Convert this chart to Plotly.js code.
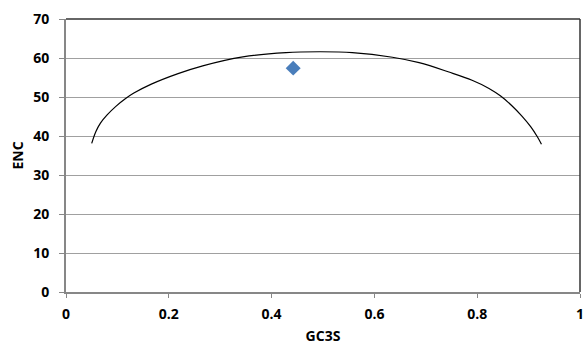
<!DOCTYPE html>
<html>
<head>
<meta charset="utf-8">
<script src="https://cdn.plot.ly/plotly-3.0.1.min.js"></script>
<style>html,body{margin:0;padding:0;background:#fff;}#chart{width:583px;height:345px;}</style>
</head>
<body>
<div id="chart"></div>
<script>
// Expected ENC curve
var curveGC3S = [0.050, 0.058, 0.067, 0.080, 0.097, 0.116, 0.132, 0.166, 0.218, 0.266, 0.344, 0.428, 0.493, 0.557, 0.635, 0.687, 0.745, 0.790, 0.823, 0.845, 0.868, 0.887, 0.904, 0.917, 0.925];
var curveENC  = [38.1, 41.1, 43.3, 45.4, 47.6, 49.6, 51.0, 53.3, 56.0, 58.0, 60.3, 61.4, 61.6, 61.4, 60.2, 58.8, 56.4, 54.3, 52.2, 50.3, 47.7, 45.1, 42.4, 39.8, 37.9];
// Observed point
var pointGC3S = [0.442];
var pointENC  = [57.4];

var xTickVals = [0, 0.2, 0.4, 0.6, 0.8, 1];
var xTickText = ['0', '0.2', '0.4', '0.6', '0.8', '1'];
var yTickVals = [0, 10, 20, 30, 40, 50, 60, 70];

var fontFam = 'Open Sans, sans-serif';
var tf = {family: fontFam, size: 14, weight: 'bold', color: '#000'};
var data = [
  {x: curveGC3S, y: curveENC, type: 'scatter', mode: 'lines',
   line: {color: '#000000', width: 1.2, shape: 'spline', smoothing: 1}, hoverinfo: 'skip'},
  {x: pointGC3S, y: pointENC, type: 'scatter', mode: 'markers',
   marker: {symbol: 'diamond', size: 11.5, color: '#4A7EBB', line: {width: 0}}}
];
var layout = {
  width: 583, height: 345,
  margin: {l: 66, r: 3, t: 19, b: 53},
  paper_bgcolor: '#ffffff', plot_bgcolor: '#ffffff',
  showlegend: false,
  font: {family: fontFam, color: '#000000'},
  xaxis: {
    range: [0, 1], tickvals: xTickVals, ticktext: xTickText,
    showgrid: false, zeroline: false,
    showline: true, linecolor: '#878787', linewidth: 2,
    ticks: 'outside', ticklen: 4, tickcolor: '#878787', tickwidth: 1,
    ticklabeloverflow: 'allow', ticklabelstandoff: 4,
    tickfont: tf,
    title: {text: 'GC3S', font: tf, standoff: 13}
  },
  yaxis: {
    range: [0, 70], tickvals: yTickVals,
    showgrid: true, gridcolor: '#A0A0A0', gridwidth: 1,
    zeroline: false,
    showline: true, linecolor: '#878787', linewidth: 2,
    ticks: 'outside', ticklen: 5, tickcolor: '#878787', tickwidth: 1,
    ticklabelstandoff: 7,
    tickfont: tf,
    title: {text: 'ENC', font: tf, standoff: 6}
  },
  shapes: [
    {type: 'line', xref: 'paper', yref: 'paper', x0: 0, x1: 1, y0: 1, y1: 1, line: {color: '#333333', width: 1.5}},
    {type: 'line', xref: 'paper', yref: 'paper', x0: 1, x1: 1, y0: 0, y1: 1, line: {color: '#333333', width: 1.5}}
  ]
};
Plotly.newPlot('chart', data, layout, {displayModeBar: false, staticPlot: true});
</script>
</body>
</html>
